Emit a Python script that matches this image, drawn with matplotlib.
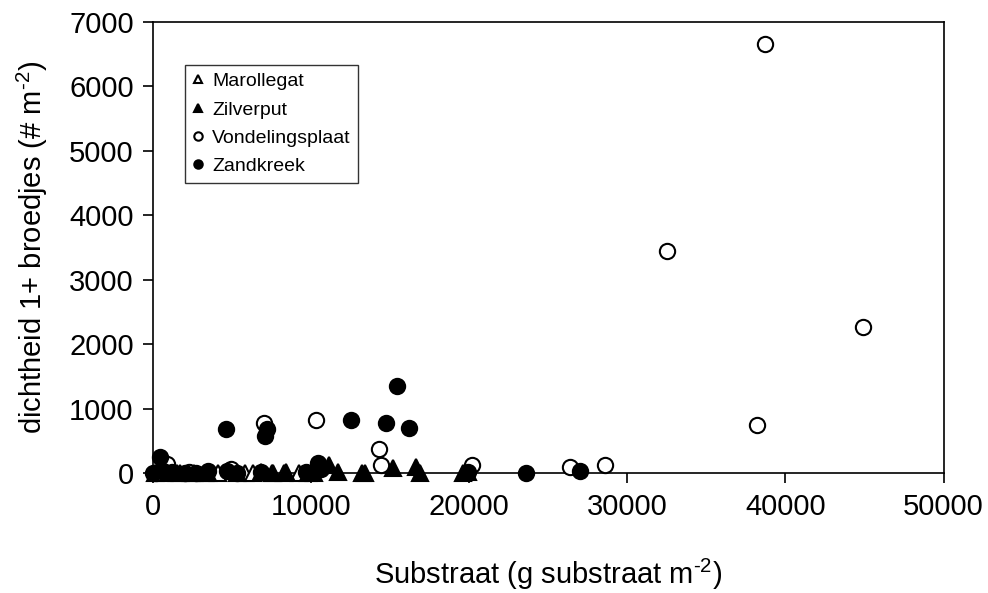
import matplotlib.pyplot as plt

plt.rcParams['font.family'] = ['Liberation Sans Narrow', 'Liberation Sans', 'DejaVu Sans']
plt.rcParams['mathtext.fontset'] = 'custom'
plt.rcParams['mathtext.rm'] = 'Liberation Sans'

# Marollegat (open driehoeken)
maro_x = [1500, 2400, 3300, 4100, 5800, 6300, 7600, 8300, 9200]
maro_y = [0, 0, 0, 0, 0, 0, 0, 0, 0]

# Zilverput (gevulde driehoeken)
zilv_x = [100, 700, 1700, 2600, 3500, 5300, 6800, 7500, 8400, 9800, 10200,
          11100, 11700, 13200, 13400, 15200, 16600, 16900, 19600, 19900]
zilv_y = [0, 0, 0, 0, 0, 0, 20, 0, 20, 0, 0,
          120, 20, 0, 0, 80, 100, 0, 0, 20]

# Vondelingsplaat (open cirkels)
vond_x = [38700, 32500, 44900, 38200, 7000, 10300, 14300, 14400, 20200,
          26400, 28600, 900, 4900, 200, 2300]
vond_y = [6660, 3450, 2270, 750, 780, 820, 370, 130, 120,
          95, 125, 140, 60, 0, 20]

# Zandkreek (gevulde cirkels)
zand_x = [15400, 12500, 14700, 16200, 4600, 7200, 7100, 450, 10400, 9700,
          19900, 23600, 27000, 0, 600, 1200, 2000, 2700, 3500, 4700, 5300,
          6800, 10600]
zand_y = [1350, 830, 780, 700, 690, 690, 570, 250, 160, 15,
          20, 5, 30, 0, 30, 20, 0, 10, 30, 40, 0,
          20, 60]

fig = plt.figure(figsize=(9.88, 5.93), dpi=100)
ax = fig.add_axes([0.155, 0.202, 0.8, 0.761])

ms = 11
ax.plot(maro_x, maro_y, '^', ms=ms, mfc='white', mec='black', mew=1.5,
        ls='none', clip_on=False, label='Marollegat', zorder=3)
ax.plot(zilv_x, zilv_y, '^', ms=ms, mfc='black', mec='black', mew=1.5,
        ls='none', clip_on=False, label='Zilverput', zorder=3)
ax.plot(vond_x, vond_y, 'o', ms=ms, mfc='white', mec='black', mew=1.5,
        ls='none', clip_on=False, label='Vondelingsplaat', zorder=3)
ax.plot(zand_x, zand_y, 'o', ms=ms, mfc='black', mec='black', mew=1.5,
        ls='none', clip_on=False, label='Zandkreek', zorder=3)

ax.set_xlim(0, 50000)
ax.set_ylim(0, 7000)
ax.set_xticks(range(0, 50001, 10000))
ax.set_yticks(range(0, 7001, 1000))
ax.tick_params(axis='both', direction='out', length=7, width=1.2,
               labelsize=21, pad=7)
for s in ax.spines.values():
    s.set_linewidth(1.2)

ax.set_xlabel(r'Substraat (g substraat m$^{\text{-2}}$)', fontsize=21, labelpad=26)
ax.set_ylabel(r'dichtheid 1+ broedjes (# m$^{\text{-2}}$)', fontsize=21, labelpad=14)

leg = ax.legend(loc='upper left', bbox_to_anchor=(0.04, 0.905), fontsize=14,
                markerscale=0.55, frameon=True, fancybox=False,
                edgecolor='black', handlelength=0.6, handletextpad=0.4,
                borderpad=0.4, labelspacing=0.55, borderaxespad=0)
leg.get_frame().set_linewidth(1.0)

fig.savefig('out.png', dpi=100)
